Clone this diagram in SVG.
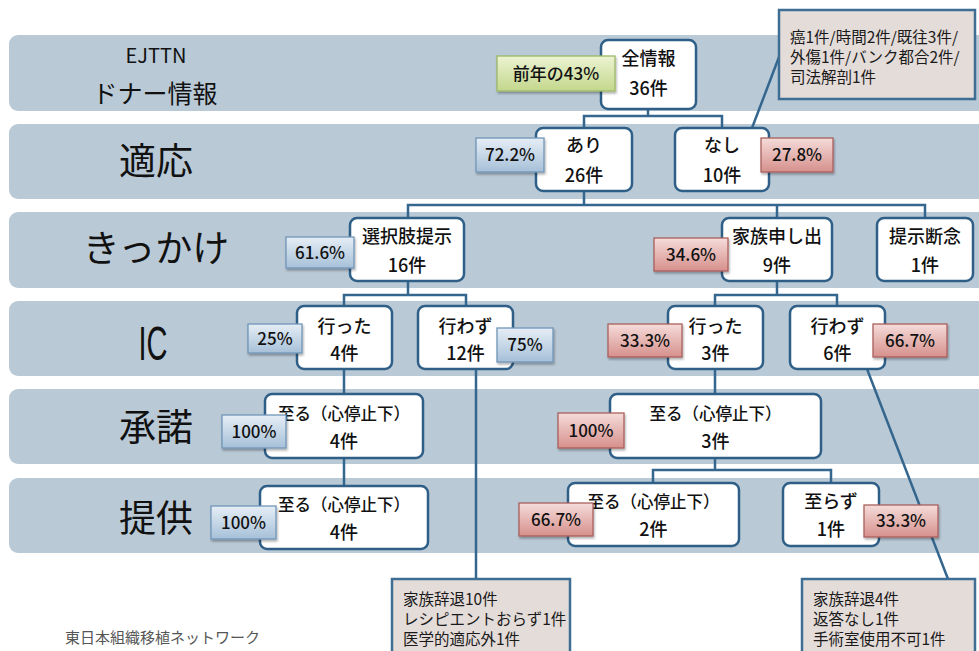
<svg xmlns="http://www.w3.org/2000/svg" width="979" height="651" viewBox="0 0 979 651">
<defs>
<linearGradient id="gBlue" x1="0" y1="0" x2="0" y2="1"><stop offset="0" stop-color="#e6eef6"/><stop offset="1" stop-color="#a6c0d8"/></linearGradient>
<linearGradient id="gRed" x1="0" y1="0" x2="0" y2="1"><stop offset="0" stop-color="#f5dcda"/><stop offset="1" stop-color="#d6908c"/></linearGradient>
<linearGradient id="gGreen" x1="0" y1="0" x2="0" y2="1"><stop offset="0" stop-color="#ecf3d2"/><stop offset="1" stop-color="#c3d78c"/></linearGradient>
<filter id="sh" x="-20%" y="-20%" width="140%" height="160%"><feDropShadow dx="1" dy="2" stdDeviation="1.2" flood-color="#000" flood-opacity="0.3"/></filter>
</defs>
<style>
.band{fill:#b9c9d6}
.lbl{font-family:"Noto Sans CJK JP","Liberation Sans",sans-serif;fill:#111;text-anchor:middle}
.box{fill:#fff;stroke:#2f5f87;stroke-width:2.5}
.t{font-family:"Noto Sans CJK JP","Liberation Sans",sans-serif;font-size:18px;font-weight:500;fill:#111;text-anchor:middle}
.t16{font-size:16.5px}
.pb{stroke:#7096b8;stroke-width:1.3;fill:url(#gBlue);filter:url(#sh)}
.pr{stroke:#a9605c;stroke-width:1.3;fill:url(#gRed);filter:url(#sh)}
.pg{stroke:#9db868;stroke-width:1.3;fill:url(#gGreen);filter:url(#sh)}
.pt{font-family:"Noto Sans CJK JP","Liberation Sans",sans-serif;font-size:17px;font-weight:500;fill:#111;text-anchor:middle}
.note{fill:#e4dcd9;stroke:#3e6e93;stroke-width:2.5}
.nt{font-family:"Noto Sans CJK JP","Liberation Sans",sans-serif;font-size:15.5px;fill:#1a1a1a}
.conn{fill:none;stroke:#34668e;stroke-width:2.5}
</style>
<rect width="979" height="651" fill="#fff"/>

<g id="bands">
<g id="band-donor"><rect class="band" x="9" y="35" width="1000" height="76" rx="9"/>
<text class="lbl" x="156" y="63" font-size="20">EJTTN</text>
<text class="lbl" x="155" y="103" font-size="25">ドナー情報</text></g>
<g id="band-tekiou"><rect class="band" x="9" y="124" width="1000" height="75" rx="9"/>
<text class="lbl" x="156" y="175" font-size="37">適応</text></g>
<g id="band-kikkake"><rect class="band" x="9" y="212" width="1000" height="76" rx="9"/>
<text class="lbl" x="156" y="262" font-size="37">きっかけ</text></g>
<g id="band-ic"><rect class="band" x="9" y="301" width="1000" height="75" rx="9"/>
<text class="lbl" x="153" y="360" font-size="48" textLength="29" lengthAdjust="spacingAndGlyphs" style="font-family:'Liberation Sans',sans-serif">IC</text></g>
<g id="band-shodaku"><rect class="band" x="9" y="389" width="1000" height="75" rx="9"/>
<text class="lbl" x="156" y="441" font-size="37">承諾</text></g>
<g id="band-teikyo"><rect class="band" x="9" y="478" width="1000" height="75" rx="9"/>
<text class="lbl" x="156" y="532" font-size="37">提供</text></g>
</g>

<g id="connectors">
<path class="conn" d="M648,109V116M584,128V116H722V128"/>
<path class="conn" d="M584,191V205M408,218V205H925V218M777,205V218"/>
<path class="conn" d="M408,281V295M344,306V295H466V306"/>
<path class="conn" d="M777,281V295M715,306V295H837V306"/>
<path class="conn" d="M344,369V394M344,458V486"/>
<path class="conn" d="M715,369V394M715,458V470M653,483V470H831V483"/>
<path class="conn" d="M752,128L779,57"/>
<path class="conn" d="M476,369V579"/>
<path class="conn" d="M867,369L948,579"/>
</g>

<g id="n-all"><rect class="box" x="601" y="40" width="95" height="69" rx="7"/>
<text class="t" x="648.5" y="64.5">全情報</text><text class="t" x="648.5" y="94.5">36件</text></g>
<g id="p-prev"><rect class="pg" x="497" y="56" width="118" height="35"/><text class="pt" x="556" y="79.5">前年の43%</text></g>

<g id="n-ari"><rect class="box" x="536" y="128" width="96" height="63" rx="7"/>
<text class="t" x="584" y="151.5">あり</text><text class="t" x="584" y="181.5">26件</text></g>
<g id="p-ari"><rect class="pb" x="476" y="138" width="68" height="34"/><text class="pt" x="510" y="161">72.2%</text></g>
<g id="n-nashi"><rect class="box" x="675" y="128" width="94" height="63" rx="7"/>
<text class="t" x="722" y="151.5">なし</text><text class="t" x="722" y="181.5">10件</text></g>
<g id="p-nashi"><rect class="pr" x="761" y="138" width="72" height="34"/><text class="pt" x="797" y="161">27.8%</text></g>

<g id="n-sentaku"><rect class="box" x="350" y="218" width="114" height="63" rx="7"/>
<text class="t" x="407" y="243">選択肢提示</text><text class="t" x="407" y="271.5">16件</text></g>
<g id="p-sentaku"><rect class="pb" x="286" y="237" width="68" height="31"/><text class="pt" x="320" y="258.5">61.6%</text></g>
<g id="n-kazoku"><rect class="box" x="722" y="218" width="110" height="63" rx="7"/>
<text class="t" x="777" y="243">家族申し出</text><text class="t" x="777" y="271.5">9件</text></g>
<g id="p-kazoku"><rect class="pr" x="654" y="238" width="74" height="33"/><text class="pt" x="691" y="260.5">34.6%</text></g>
<g id="n-dannen"><rect class="box" x="877" y="218" width="96" height="63" rx="7"/>
<text class="t" x="925" y="243">提示断念</text><text class="t" x="925" y="271.5">1件</text></g>

<g id="n-itta1"><rect class="box" x="297" y="306" width="95" height="63" rx="7"/>
<text class="t" x="344.5" y="333">行った</text><text class="t" x="344.5" y="359.5">4件</text></g>
<g id="p-itta1"><rect class="pb" x="248" y="324" width="54" height="29"/><text class="pt" x="275" y="344.5">25%</text></g>
<g id="n-iwazu1"><rect class="box" x="418" y="306" width="95" height="63" rx="7"/>
<text class="t" x="465.5" y="333">行わず</text><text class="t" x="465.5" y="359.5">12件</text></g>
<g id="p-iwazu1"><rect class="pb" x="497" y="328" width="56" height="34"/><text class="pt" x="525" y="350.5">75%</text></g>
<g id="n-itta2"><rect class="box" x="668" y="306" width="95" height="63" rx="7"/>
<text class="t" x="715.5" y="333">行った</text><text class="t" x="715.5" y="359.5">3件</text></g>
<g id="p-itta2"><rect class="pr" x="608" y="324" width="74" height="33"/><text class="pt" x="645" y="346.5">33.3%</text></g>
<g id="n-iwazu2"><rect class="box" x="790" y="306" width="95" height="63" rx="7"/>
<text class="t" x="837.5" y="333">行わず</text><text class="t" x="837.5" y="359.5">6件</text></g>
<g id="p-iwazu2"><rect class="pr" x="873" y="324" width="74" height="33"/><text class="pt" x="910" y="346.5">66.7%</text></g>

<g id="n-shodaku1"><rect class="box" x="265" y="394" width="158" height="64" rx="7"/>
<text class="t t16" x="344" y="419.5">至る（心停止下）</text><text class="t" x="344" y="448">4件</text></g>
<g id="p-shodaku1"><rect class="pb" x="222" y="415" width="64" height="33"/><text class="pt" x="254" y="437.5">100%</text></g>
<g id="n-shodaku2"><rect class="box" x="610" y="394" width="211" height="64" rx="7"/>
<text class="t t16" x="715.5" y="419.5">至る（心停止下）</text><text class="t" x="715.5" y="448">3件</text></g>
<g id="p-shodaku2"><rect class="pr" x="558" y="413" width="66" height="35"/><text class="pt" x="591" y="436.5">100%</text></g>

<g id="n-teikyo1"><rect class="box" x="260" y="486" width="168" height="63" rx="7"/>
<text class="t t16" x="344" y="510.5">至る（心停止下）</text><text class="t" x="344" y="539">4件</text></g>
<g id="p-teikyo1"><rect class="pb" x="211" y="506" width="65" height="33"/><text class="pt" x="243.5" y="528.5">100%</text></g>
<g id="n-teikyo2"><rect class="box" x="568" y="483" width="171" height="63" rx="7"/>
<text class="t t16" x="653.5" y="508">至る（心停止下）</text><text class="t" x="653.5" y="535.5">2件</text></g>
<g id="p-teikyo2"><rect class="pr" x="519" y="503" width="74" height="33"/><text class="pt" x="556" y="525.5">66.7%</text></g>
<g id="n-itarazu"><rect class="box" x="783" y="483" width="96" height="63" rx="7"/>
<text class="t" x="831" y="508">至らず</text><text class="t" x="831" y="535.5">1件</text></g>
<g id="p-itarazu"><rect class="pr" x="864" y="505" width="74" height="32"/><text class="pt" x="901" y="527">33.3%</text></g>

<g id="note-nashi"><rect class="note" x="779" y="10" width="196" height="89"/>
<text class="nt" x="790" y="43">癌1件/時間2件/既往3件/</text>
<text class="nt" x="790" y="63">外傷1件/バンク都合2件/</text>
<text class="nt" x="790" y="83">司法解剖1件</text></g>

<g id="note-iwazu1"><rect class="note" x="392" y="579" width="178" height="80"/>
<text class="nt" x="403" y="605">家族辞退10件</text>
<text class="nt" x="403" y="625">レシピエントおらず1件</text>
<text class="nt" x="403" y="645">医学的適応外1件</text></g>

<g id="note-iwazu2"><rect class="note" x="802" y="579" width="173" height="80"/>
<text class="nt" x="813" y="605">家族辞退4件</text>
<text class="nt" x="813" y="625">返答なし1件</text>
<text class="nt" x="813" y="645">手術室使用不可1件</text></g>

<text x="65" y="643" font-family="'Noto Sans CJK JP',sans-serif" font-size="15" fill="#555">東日本組織移植ネットワーク</text>
</svg>
